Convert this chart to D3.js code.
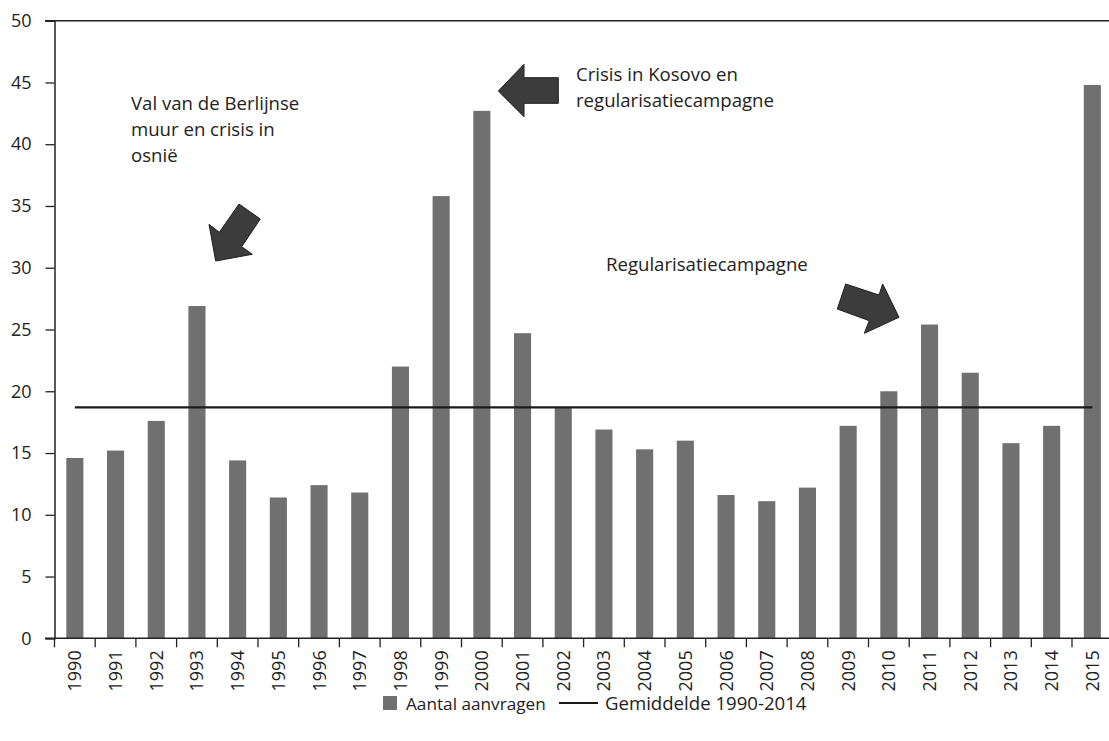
<!DOCTYPE html>
<html>
<head>
<meta charset="utf-8">
<script src="https://cdn.jsdelivr.net/npm/d3@7"></script>
<style>
  body { margin: 0; background: #fff; }
  svg { display: block; }
  text { font-family: "Open Sans", sans-serif; fill: #222; }
</style>
</head>
<body>
<svg id="chart" width="1109" height="741"></svg>
<script>
const years = ["1990","1991","1992","1993","1994","1995","1996","1997","1998","1999","2000","2001","2002","2003","2004","2005","2006","2007","2008","2009","2010","2011","2012","2013","2014","2015"];
const aanvragen = [14.6,15.2,17.6,26.9,14.4,11.4,12.4,11.8,22.0,35.8,42.7,24.7,18.7,16.9,15.3,16.0,11.6,11.1,12.2,17.2,20.0,25.4,21.5,15.8,17.2,44.8];
const gemiddelde = 18.7;
const yTicks = [0,5,10,15,20,25,30,35,40,45,50];
const seriesNames = ["Aantal aanvragen", "Gemiddelde 1990-2014"];
const annotations = [
  { lines: ["Val van de Berlijnse", "muur en crisis in", "osnië"] },
  { lines: ["Crisis in Kosovo en", "regularisatiecampagne"] },
  { lines: ["Regularisatiecampagne"] }
];

const svg = d3.select("#chart");
const x = d3.scaleBand().domain(years).range([54.5, 1112.7]).paddingInner(0.58).paddingOuter(0.29);
const xb = d3.scaleBand().domain(years).range([54.5, 1112.7]);
const y = d3.scaleLinear().domain([0, 50]).range([638.3, 20.7]);

// top border line
svg.append("line").attr("x1", 45).attr("x2", 1109).attr("y1", y(50)).attr("y2", y(50))
  .attr("stroke", "#222").attr("stroke-width", 1.5);

// bars
svg.append("g").selectAll("rect").data(years).join("rect")
  .attr("x", d => x(d))
  .attr("width", x.bandwidth())
  .attr("y", (d, i) => y(aanvragen[i]))
  .attr("height", (d, i) => y(0) - y(aanvragen[i]))
  .attr("fill", "#707070");

// average line
svg.append("line")
  .attr("x1", xb(years[0]) + xb.bandwidth() / 2)
  .attr("x2", xb(years[years.length - 1]) + xb.bandwidth() / 2)
  .attr("y1", y(gemiddelde)).attr("y2", y(gemiddelde))
  .attr("stroke", "#1a1a1a").attr("stroke-width", 2.2);

// y axis
const yAxis = d3.axisLeft(y).tickValues(yTicks).tickSize(9).tickPadding(14);
const gy = svg.append("g").attr("transform", "translate(54.5,0)").call(yAxis);
gy.select(".domain").attr("stroke", "#222").attr("stroke-width", 1.5);
gy.selectAll(".tick line").attr("stroke", "#222").attr("stroke-width", 1.3);
gy.selectAll(".tick text").style("font-size", "18px").attr("fill", "#222").attr("font-family", "Open Sans");

// x axis
const gx = svg.append("g").attr("transform", `translate(0,${y(0)})`);
gx.append("line").attr("x1", 45).attr("x2", 1109).attr("y1", 0).attr("y2", 0)
  .attr("stroke", "#222").attr("stroke-width", 1.5);
gx.selectAll("line.tk").data(years).join("line").attr("class", "tk")
  .attr("x1", d => xb(d)).attr("x2", d => xb(d)).attr("y1", 0).attr("y2", 9)
  .attr("stroke", "#222").attr("stroke-width", 1.3);
gx.selectAll("text.lbl").data(years).join("text").attr("class", "lbl")
  .attr("transform", d => `translate(${xb(d) + xb.bandwidth() / 2 + 6.5},12) rotate(-90)`)
  .attr("text-anchor", "end")
  .style("font-size", "18px")
  .text(d => d);

// annotations
function addText(lines, x0, y0, lh) {
  const t = svg.append("text").style("font-size", "18.6px");
  lines.forEach((l, i) => t.append("tspan").attr("x", x0).attr("y", y0 + i * lh).text(l));
}
addText(annotations[0].lines, 131, 110, 26);
addText(annotations[1].lines, 576, 81, 26);
addText(annotations[2].lines, 606, 271, 26);

// arrows (annotation shapes)
const arrowStyle = g => g.attr("fill", "#3c3c3c").attr("stroke", "#1e1e1e").attr("stroke-width", 1);
svg.append("polygon")
  .attr("points", "239,204 260.3,219 241.7,246.7 252.3,254.3 215.7,261 209,224.3 219.3,232.3")
  .call(arrowStyle);
svg.append("polygon")
  .attr("points", "498.3,91 524,64.3 524,77.7 558.3,77.7 558.3,103.3 524,103.3 524,116.7")
  .call(arrowStyle);
svg.append("polygon")
  .attr("points", "845.7,284 879,295 882.7,284 899,317.3 864.3,333.3 869.3,320.7 837.3,309")
  .call(arrowStyle);

// legend
const lg = svg.append("g");
lg.append("rect").attr("x", 383).attr("y", 696).attr("width", 14).attr("height", 14).attr("fill", "#707070");
lg.append("text").attr("x", 406).attr("y", 709.5).style("font-size", "17.2px").text(seriesNames[0]);
lg.append("line").attr("x1", 559).attr("x2", 598).attr("y1", 703).attr("y2", 703)
  .attr("stroke", "#1a1a1a").attr("stroke-width", 2.2);
lg.append("text").attr("x", 605).attr("y", 709.5).style("font-size", "18.6px").text(seriesNames[1]);
</script>
</body>
</html>
